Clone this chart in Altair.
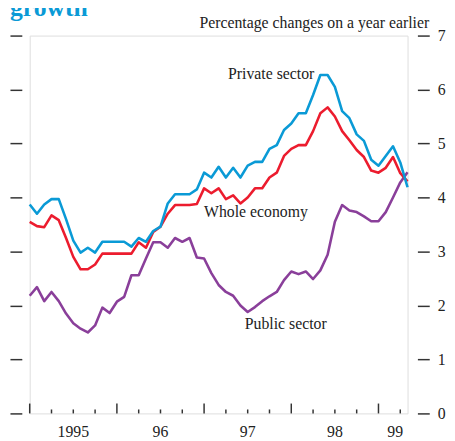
import altair as alt
import pandas as pd

# Monthly data, January 1995 to May 1999 (percentage changes on a year earlier)
start_month = "1995-01"
private_sector = [3.87, 3.70, 3.87, 3.97, 3.97, 3.60, 3.20, 2.98, 3.07, 2.98, 3.18, 3.18,
                  3.18, 3.18, 3.09, 3.25, 3.18, 3.38, 3.46, 3.89, 4.06, 4.06, 4.06, 4.15,
                  4.46, 4.37, 4.57, 4.37, 4.55, 4.37, 4.59, 4.66, 4.66, 4.90, 4.97, 5.25,
                  5.37, 5.56, 5.56, 5.90, 6.27, 6.27, 6.05, 5.60, 5.47, 5.17, 5.05, 4.70,
                  4.59, 4.77, 4.95, 4.65, 4.19]
whole_economy = [3.55, 3.47, 3.45, 3.67, 3.58, 3.25, 2.90, 2.67, 2.67, 2.76, 2.96, 2.96,
                 2.96, 2.96, 2.96, 3.17, 3.07, 3.36, 3.46, 3.70, 3.86, 3.86, 3.86, 3.88,
                 4.17, 4.08, 4.17, 3.97, 4.04, 3.89, 4.00, 4.17, 4.17, 4.37, 4.46, 4.77,
                 4.90, 4.97, 4.97, 5.23, 5.56, 5.67, 5.50, 5.23, 5.06, 4.88, 4.75, 4.50,
                 4.46, 4.55, 4.75, 4.45, 4.30]
public_sector = [2.18, 2.34, 2.08, 2.25, 2.08, 1.85, 1.67, 1.57, 1.50, 1.63, 1.96, 1.86,
                 2.07, 2.16, 2.56, 2.56, 2.87, 3.17, 3.17, 3.07, 3.25, 3.18, 3.25, 2.89,
                 2.87, 2.60, 2.38, 2.25, 2.18, 2.00, 1.88, 1.97, 2.08, 2.17, 2.25, 2.47,
                 2.63, 2.58, 2.63, 2.49, 2.65, 2.94, 3.55, 3.86, 3.76, 3.73, 3.65, 3.56,
                 3.56, 3.73, 4.00, 4.28, 4.47]

series_names = ["Private sector", "Whole economy", "Public sector"]
series_colors = ["#0a9ad6", "#ec1c2e", "#8a3f9a"]

year_labels = ["1995", "96", "97", "98", "99"]
year_label_pos = [6, 18, 30, 42, 50.3]          # months since Jan 1995
year_ticks = [0, 12, 24, 36, 48]
quarter_ticks = [3, 6, 9, 15, 18, 21, 27, 30, 33, 39, 42, 45, 51]
y_ticks = [0, 1, 2, 3, 4, 5, 6, 7]

label_text = ["Private sector", "Whole economy", "Public sector"]
label_x = [27.3, 24.0, 29.6]
label_y = [6.29, 3.73, 1.66]

title_text = "growth"
subtitle_text = "Percentage changes on a year earlier"

# ---- build table ----
periods = pd.period_range(start_month, periods=len(private_sector), freq="M")
t_index = [(p.year - 1995) * 12 + p.month - 1 for p in periods]
rows = []
for name, vals in zip(series_names, [private_sector, whole_economy, public_sector]):
    for t, v in zip(t_index, vals):
        rows.append({"t": t, "v": v, "series": name})
df = pd.DataFrame(rows)

W, H = 383, 383
FONT = "Liberation Serif"
FS = 16
INK = "#222222"
TICK = "#333333"

xs = alt.Scale(domain=[0, 52], nice=False, zero=False)
ys = alt.Scale(domain=[0, 7], nice=False, zero=True)
color = alt.Scale(domain=series_names, range=series_colors)

x_axis = alt.Axis(title=None, labels=False, ticks=False, grid=False, domain=True,
                  domainColor=TICK, domainWidth=1.5)

# draw order: purple, red, blue on top
draw_order = ["Public sector", "Whole economy", "Private sector"]
line_layers = []
for i, name in enumerate(draw_order):
    sub = df[df.series == name]
    if i == 0:
        yaxis = alt.Axis(orient="left", offset=8, tickSize=12, labels=False,
                         domain=False, grid=False, values=y_ticks, title=None,
                         tickColor=TICK, tickWidth=1.5)
        xaxis = x_axis
    else:
        yaxis = None
        xaxis = None
    line_layers.append(
        alt.Chart(sub).mark_line(strokeWidth=2.6, strokeJoin="round").encode(
            x=alt.X("t:Q", scale=xs, axis=xaxis),
            y=alt.Y("v:Q", scale=ys, axis=yaxis),
            color=alt.Color("series:N", scale=color, legend=None),
        )
    )

right_axis_layer = alt.Chart(pd.DataFrame({"v": y_ticks})).mark_point(opacity=0).encode(
    y=alt.Y("v:Q", scale=ys,
            axis=alt.Axis(orient="right", offset=10, tickSize=12, labelPadding=8, domain=False,
                          grid=False, values=y_ticks, title=None, tickColor=TICK, tickWidth=1.5,
                          labelFont=FONT, labelFontSize=FS, labelColor=INK)),
)

major = alt.Chart(pd.DataFrame({"t": year_ticks})).mark_rule(color=TICK, strokeWidth=1.5).encode(
    x=alt.X("t:Q", scale=xs, axis=None), y=alt.value(H), y2=alt.value(H - 10))
minor = alt.Chart(pd.DataFrame({"t": quarter_ticks})).mark_rule(color=TICK, strokeWidth=1.5).encode(
    x=alt.X("t:Q", scale=xs, axis=None), y=alt.value(H), y2=alt.value(H - 4))

year_text = alt.Chart(pd.DataFrame({"t": year_label_pos, "lab": year_labels})).mark_text(
    font=FONT, fontSize=FS, color=INK, baseline="middle", align="center").encode(
    x=alt.X("t:Q", scale=xs, axis=None), y=alt.value(H + 19), text="lab:N")

series_text = alt.Chart(pd.DataFrame({"x": label_x, "y": label_y, "lab": label_text})).mark_text(
    font=FONT, fontSize=FS, color=INK, baseline="middle", align="left").encode(
    x=alt.X("x:Q", scale=xs, axis=None), y=alt.Y("y:Q", scale=ys, axis=None), text="lab:N")

title = alt.Chart(pd.DataFrame({"s": [title_text]})).mark_text(
    font=FONT, fontSize=26, fontWeight="bold", color="#0a9ad6", align="left",
    baseline="alphabetic").encode(x=alt.value(-20), y=alt.value(-20), text="s:N")

subtitle = alt.Chart(pd.DataFrame({"s": [subtitle_text]})).mark_text(
    font=FONT, fontSize=FS, color=INK, align="right", baseline="alphabetic").encode(
    x=alt.value(405), y=alt.value(-8), text="s:N")

chart = alt.layer(
    *line_layers, right_axis_layer, major, minor, year_text, series_text, title, subtitle
).resolve_axis(y="independent").properties(
    width=W, height=H,
    autosize=alt.AutoSizeParams(type="none"),
    padding={"left": 22, "top": 25, "right": 40, "bottom": 25},
).configure_view(stroke=None).configure(background="white")

chart.save("out.html", embed_options={"renderer": "svg", "actions": False})
